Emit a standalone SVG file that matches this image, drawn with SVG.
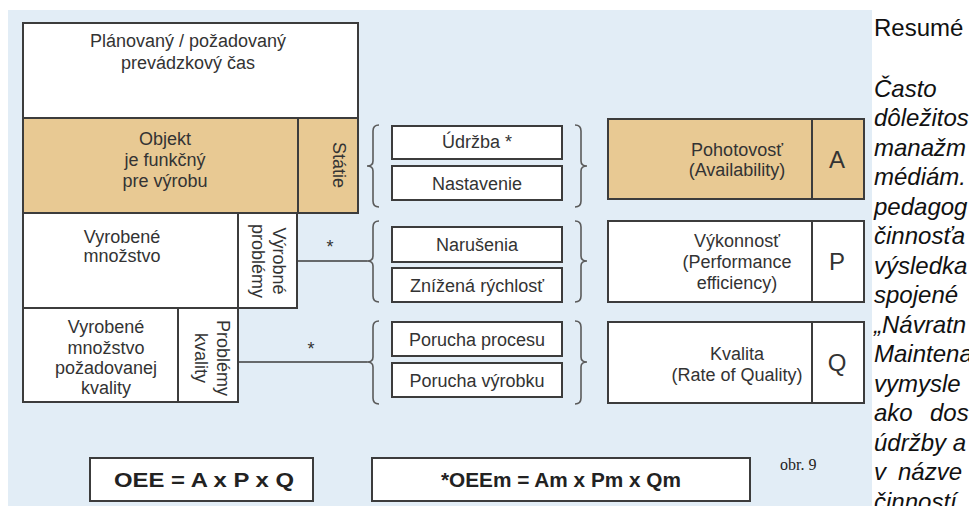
<svg xmlns="http://www.w3.org/2000/svg" width="969" height="506" viewBox="0 0 969 506">
<style>
.t{font-family:"Liberation Sans",Arial,sans-serif;font-size:18px;fill:#333;text-anchor:middle}
.box{stroke:#3c3c3c;stroke-width:2;fill:#fff}
.org{stroke:#3c3c3c;stroke-width:2;fill:#e8c993}
.br{fill:none;stroke:#5a5a5a;stroke-width:1.6}
.ln{fill:none;stroke:#3c3c3c;stroke-width:1.6}
.big{font-family:"Liberation Sans",Arial,sans-serif;font-size:24px;fill:#333;text-anchor:middle}
.f{font-family:"Liberation Sans",Arial,sans-serif;font-size:21px;font-weight:bold;fill:#222;text-anchor:middle}
.r{font-family:"Liberation Sans",Arial,sans-serif;font-size:24px;fill:#111}
.ri{font-family:"Liberation Sans",Arial,sans-serif;font-size:24px;font-style:italic;fill:#111}
</style>
<rect x="0" y="0" width="969" height="506" fill="#fff"/>
<rect x="8" y="10" width="864" height="496" fill="#e2edf6"/>

<g id="planned">
<rect class="box" x="23" y="23" width="335" height="95"/>
<text class="t" x="188" y="47">Plánovaný / požadovaný</text>
<text class="t" x="188" y="69">prevádzkový čas</text>
</g>
<g id="objekt">
<rect class="org" x="23" y="118" width="275" height="95"/>
<text class="t" x="165" y="145">Objekt</text>
<text class="t" x="165" y="166">je funkčný</text>
<text class="t" x="165" y="187">pre výrobu</text>
</g>
<g id="statie">
<rect class="org" x="298" y="118" width="60" height="95"/>
<text class="t" transform="translate(333,165) rotate(90)">Státie</text>
</g>
<g id="vyrobene">
<rect class="box" x="23" y="213" width="215" height="95"/>
<text class="t" x="122" y="243">Vyrobené</text>
<text class="t" x="122" y="262">množstvo</text>
</g>
<g id="vyrobne-problemy">
<rect class="box" x="238" y="213" width="59" height="95"/>
<text class="t" transform="translate(273,261) rotate(90)">Výrobné</text>
<text class="t" transform="translate(252,261) rotate(90)">problémy</text>
</g>
<g id="vyrobene-kvality">
<rect class="box" x="23" y="308" width="155" height="94"/>
<text class="t" x="106" y="333">Vyrobené</text>
<text class="t" x="106" y="354">množstvo</text>
<text class="t" x="106" y="374">požadovanej</text>
<text class="t" x="106" y="394">kvality</text>
</g>
<g id="problemy-kvality">
<rect class="box" x="178" y="308" width="60" height="94"/>
<text class="t" transform="translate(217,358) rotate(90)">Problémy</text>
<text class="t" transform="translate(195,358) rotate(90)">kvality</text>
</g>

<g id="udrzba"><rect class="box" x="392" y="126" width="170" height="33"/><text class="t" x="477" y="148">Údržba *</text></g>
<g id="nastavenie"><rect class="box" x="392" y="166" width="170" height="34"/><text class="t" x="477" y="190">Nastavenie</text></g>
<g id="narusenia"><rect class="box" x="392" y="227" width="170" height="35"/><text class="t" x="477" y="251">Narušenia</text></g>
<g id="znizena"><rect class="box" x="392" y="268" width="170" height="34"/><text class="t" x="477" y="292">Znížená rýchlosť</text></g>
<g id="porucha-procesu"><rect class="box" x="392" y="322" width="170" height="34"/><text class="t" x="477" y="346">Porucha procesu</text></g>
<g id="porucha-vyrobku"><rect class="box" x="392" y="363" width="170" height="34"/><text class="t" x="477" y="387">Porucha výrobku</text></g>

<g id="pohotovost">
<rect class="org" x="608" y="119" width="204" height="80"/>
<rect class="org" x="812" y="119" width="52" height="80"/>
<text class="t" x="737" y="156">Pohotovosť</text>
<text class="t" x="737" y="176">(Availability)</text>
<text class="big" x="837" y="168">A</text>
</g>
<g id="vykonnost">
<rect class="box" x="608" y="221" width="204" height="81"/>
<rect class="box" x="812" y="221" width="52" height="81"/>
<text class="t" x="737" y="247">Výkonnosť</text>
<text class="t" x="737" y="268">(Performance</text>
<text class="t" x="737" y="289">efficiency)</text>
<text class="big" x="837" y="270">P</text>
</g>
<g id="kvalita">
<rect class="box" x="608" y="322" width="204" height="81"/>
<rect class="box" x="812" y="322" width="52" height="81"/>
<text class="t" x="737" y="360">Kvalita</text>
<text class="t" x="737" y="381">(Rate of Quality)</text>
<text class="big" x="837" y="371">Q</text>
</g>

<g id="connectors">
<path class="br" d="M379,125 Q373,125 373,131 L373,161 Q373,166 367,166 Q373,166 373,171 L373,201 Q373,207 379,207"/>
<path class="br" d="M379,221 Q373,221 373,227 L373,256 Q373,261 367,261 Q373,261 373,266 L373,296 Q373,302 379,302"/>
<path class="br" d="M379,321 Q373,321 373,327 L373,357 Q373,362 367,362 Q373,362 373,367 L373,398 Q373,404 379,404"/>
<path class="br" d="M575,125 Q581,125 581,131 L581,161 Q581,166 587,166 Q581,166 581,171 L581,201 Q581,207 575,207"/>
<path class="br" d="M575,221 Q581,221 581,227 L581,256 Q581,261 587,261 Q581,261 581,266 L581,296 Q581,302 575,302"/>
<path class="br" d="M575,321 Q581,321 581,327 L581,357 Q581,362 587,362 Q581,362 581,367 L581,398 Q581,404 575,404"/>
<path class="ln" d="M297,261 H367"/>
<path class="ln" d="M238,362 H367"/>
<text class="t" x="330" y="253">*</text>
<text class="t" x="311" y="355">*</text>
</g>

<g id="oee">
<rect class="box" x="90" y="458" width="223" height="43"/>
<text class="f" x="204" y="487" textLength="180" lengthAdjust="spacingAndGlyphs">OEE = A x P x Q</text>
</g>
<g id="oeem">
<rect class="box" x="372" y="458" width="378" height="43"/>
<text class="f" x="561" y="487" textLength="240" lengthAdjust="spacingAndGlyphs">*OEEm = Am x Pm x Qm</text>
</g>
<text x="780" y="470" style="font-family:'Liberation Serif','Times New Roman',serif;font-size:16px;fill:#222">obr. 9</text>

<g id="resume">
<text class="r" x="874" y="36">Resumé</text>
<text class="ri" x="874" y="97">Často</text>
<text class="ri" x="874" y="126">dôležitos</text>
<text class="ri" x="874" y="156">manažm</text>
<text class="ri" x="874" y="185">médiám.</text>
<text class="ri" x="874" y="215">pedagog</text>
<text class="ri" x="874" y="244">činnosťa</text>
<text class="ri" x="874" y="274">výsledka</text>
<text class="ri" x="874" y="303">spojené</text>
<text class="ri" x="874" y="333">„Návratn</text>
<text class="ri" x="874" y="362">Maintena</text>
<text class="ri" x="874" y="392">vymysle</text>
<text class="ri" x="874" y="421">ako <tspan x="930">dos</tspan></text>
<text class="ri" x="874" y="451">údržby a</text>
<text class="ri" x="874" y="480">v <tspan x="898">názve</tspan></text>
<text class="ri" x="874" y="510">činností</text>
</g>
</svg>
